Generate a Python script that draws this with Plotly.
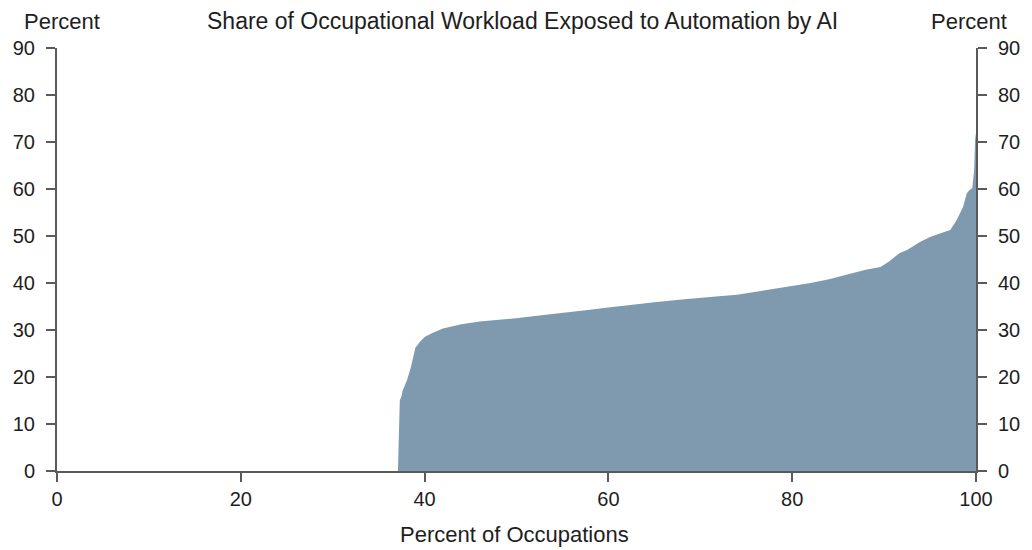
import plotly.graph_objects as go

# percent of occupations vs. share of workload exposed
occ_pct = [37.1, 37.2, 37.3, 37.5, 37.6, 38.1, 38.5, 39.0, 39.5, 40.0, 40.9, 42, 44, 46, 48, 50,
           52, 55, 58, 60, 62, 65, 68, 70, 72, 74, 75, 76, 78, 80, 82, 84, 85, 86, 88, 89.6,
           90.5, 91.7, 92.5, 93.9, 95.0, 96.0, 97.2, 97.9, 98.6, 99.0, 99.3, 99.6, 99.8, 99.9, 100]
exposure = [0, 10, 15, 16, 17, 19.4, 22, 26.2, 27.5, 28.5, 29.4, 30.3, 31.2, 31.8, 32.1, 32.5,
            33, 33.6, 34.3, 34.8, 35.3, 35.9, 36.5, 36.9, 37.2, 37.5, 37.8, 38.2, 38.7, 39.3, 40,
            40.8, 41.3, 41.8, 42.8, 43.4, 44.5, 46.4, 47, 48.7, 49.8, 50.5, 51.3, 53.4, 56.2, 59.1,
            59.8, 60.2, 64, 70.4, 72]

x_ticks = [0, 20, 40, 60, 80, 100]
y_ticks = [0, 10, 20, 30, 40, 50, 60, 70, 80, 90]

fam = "Liberation Sans, Arial, sans-serif"
txt_font = dict(family=fam, size=22, color="#1e1e1e")
title_font = dict(family=fam, size=23, color="#1e1e1e")
tick_font = dict(family=fam, size=20, color="#1e1e1e")
axis_col = "#5a5a5a"

fig = go.Figure()
fig.add_trace(go.Scatter(x=occ_pct, y=exposure, mode="lines", fill="tozeroy",
                         line=dict(width=0, color="#7f99ae"), fillcolor="#7f99ae",
                         showlegend=False, hoverinfo="skip"))
# invisible trace to get the right-hand axis
fig.add_trace(go.Scatter(x=[0], y=[0], yaxis="y2", mode="markers",
                         marker=dict(opacity=0), showlegend=False, hoverinfo="skip"))

common = dict(showgrid=False, zeroline=False, showline=True, linecolor=axis_col, linewidth=2,
              ticks="outside", ticklen=9, tickwidth=2, tickcolor=axis_col, tickfont=tick_font,
              automargin=False)

fig.update_layout(
    width=1032, height=550,
    margin=dict(l=49, r=64, t=40, b=87),
    plot_bgcolor="white", paper_bgcolor="white",
    font=txt_font,
    xaxis=dict(range=[0, 100], tickvals=x_ticks, **common),
    yaxis=dict(range=[0, 90], tickvals=y_ticks, ticklabelstandoff=7, **common),
    yaxis2=dict(range=[0, 90], tickvals=y_ticks, overlaying="y", side="right",
                ticklabelstandoff=7, **common),
    annotations=[
        dict(text="Share of Occupational Workload Exposed to Automation by AI", x=0.5, y=1,
             xref="paper", yref="paper", xanchor="center", yanchor="middle", xshift=6, yshift=27,
             showarrow=False, font=title_font),
        dict(text="Percent", x=0, y=1, xref="paper", yref="paper", xanchor="center",
             yanchor="middle", xshift=5, yshift=27, showarrow=False, font=txt_font),
        dict(text="Percent", x=1, y=1, xref="paper", yref="paper", xanchor="center",
             yanchor="middle", xshift=-7, yshift=27, showarrow=False, font=txt_font),
        dict(text="Percent of Occupations", x=0.5, y=0, xref="paper", yref="paper",
             xanchor="center", yanchor="middle", xshift=-2, yshift=-63, showarrow=False,
             font=txt_font),
    ],
)

fig.write_html("out.html")
